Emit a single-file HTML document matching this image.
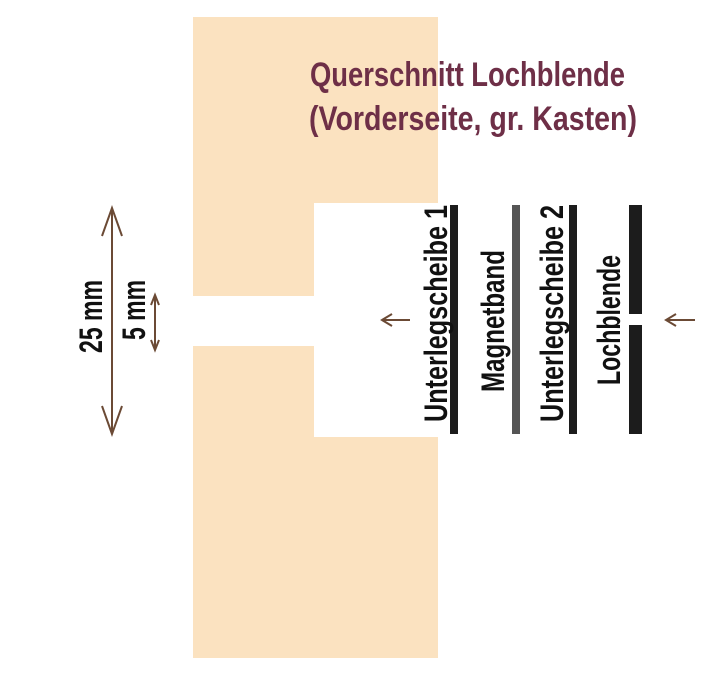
<!DOCTYPE html>
<html><head><meta charset="utf-8"><style>
html,body{margin:0;padding:0;background:#fff;}
svg{display:block;}
text{font-family:"Liberation Sans Narrow","Liberation Sans",sans-serif;font-weight:bold;}
</style></head><body>
<svg width="707" height="676" viewBox="0 0 707 676" xmlns="http://www.w3.org/2000/svg">
<rect x="193" y="17" width="245" height="641" fill="#fbe2c0"/>
<rect x="314" y="203" width="125" height="234" fill="#fff"/>
<rect x="193" y="296" width="122" height="50" fill="#fff"/>
<text x="310" y="86" font-size="34" fill="#6e2f47" textLength="315" lengthAdjust="spacingAndGlyphs">Querschnitt Lochblende</text>
<text x="309" y="130" font-size="34" fill="#6e2f47" textLength="328" lengthAdjust="spacingAndGlyphs">(Vorderseite, gr. Kasten)</text>
<rect x="450" y="205" width="8" height="229" fill="#1c1c1c"/>
<rect x="512" y="205" width="8" height="229" fill="#555"/>
<rect x="569" y="205" width="8" height="229" fill="#1c1c1c"/>
<rect x="629" y="205" width="13" height="109" fill="#1c1c1c"/>
<rect x="629" y="325" width="13" height="109" fill="#1c1c1c"/>
<g fill="#111" font-size="32">
<text transform="translate(447,422) rotate(-90)" textLength="217" lengthAdjust="spacingAndGlyphs">Unterlegscheibe 1</text>
<text transform="translate(504,392) rotate(-90)" textLength="142" lengthAdjust="spacingAndGlyphs">Magnetband</text>
<text transform="translate(563,422) rotate(-90)" textLength="217" lengthAdjust="spacingAndGlyphs">Unterlegscheibe 2</text>
<text transform="translate(620,385) rotate(-90)" textLength="130" lengthAdjust="spacingAndGlyphs">Lochblende</text>
<text transform="translate(102,353) rotate(-90)" textLength="73" lengthAdjust="spacingAndGlyphs">25 mm</text>
<text transform="translate(145,340) rotate(-90)" textLength="60" lengthAdjust="spacingAndGlyphs">5 mm</text>
</g>
<g stroke="#6b4a35" stroke-width="2" fill="none">
<line x1="112" y1="208" x2="112" y2="434"/>
<polyline points="102,236 112,208 122,236"/>
<polyline points="102,406 112,434 122,406"/>
<line x1="155" y1="295" x2="155" y2="350"/>
<polyline points="151,305 155,295 159,305"/>
<polyline points="151,340 155,350 159,340"/>
<line x1="382" y1="320" x2="410" y2="320"/>
<polyline points="392,314 382,320 392,326"/>
<line x1="666" y1="320" x2="695" y2="320"/>
<polyline points="676,314 666,320 676,326"/>
</g>
</svg>
</body></html>
